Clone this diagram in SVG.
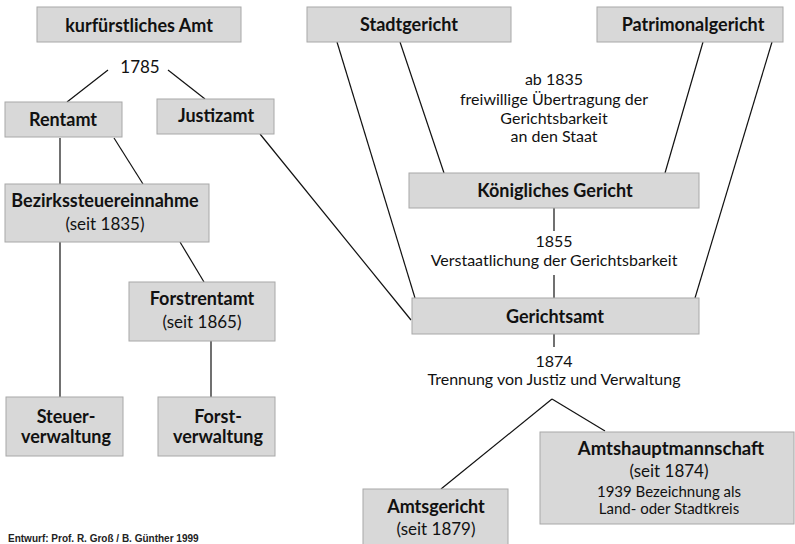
<svg xmlns="http://www.w3.org/2000/svg" width="795" height="544" viewBox="0 0 795 544">
<style>
.box{fill:#d8d8d8;stroke:#a8a8a8;stroke-width:1}
.t{font-family:Lato,"Open Sans","Liberation Sans",sans-serif;font-size:17px;fill:#111;text-anchor:middle}
.b{font-weight:bold;font-size:18px}
.n{font-family:Lato,"Open Sans","Liberation Sans",sans-serif;font-size:16px;fill:#111;text-anchor:middle}
.s{font-size:15px}
.ln{stroke:#111;stroke-width:1.2;fill:none}
.foot{font-family:"Liberation Sans",Arial,sans-serif;font-size:10px;font-weight:bold;fill:#222}
</style>
<rect width="795" height="544" fill="#ffffff"/>
<g id="connectors">
<path class="ln" d="M108,70 L67,102"/>
<path class="ln" d="M168,70 L205,99"/>
<path class="ln" d="M60,138 L60,184"/>
<path class="ln" d="M114,138 L143,184"/>
<path class="ln" d="M60,242 L60,397"/>
<path class="ln" d="M180,242 L204,282"/>
<path class="ln" d="M211,341 L211,397"/>
<path class="ln" d="M260,134 L411,320"/>
<path class="ln" d="M337,42 L415,298"/>
<path class="ln" d="M400,42 L444,173"/>
<path class="ln" d="M703,42 L665,173"/>
<path class="ln" d="M772,42 L695,298"/>
<path class="ln" d="M554,208 L554,231"/>
<path class="ln" d="M554,275 L554,298"/>
<path class="ln" d="M554,334 L554,347"/>
<path class="ln" d="M552,399 L441,489"/>
<path class="ln" d="M552,399 L605,431"/>
</g>
<g id="kurfuerstliches-amt"><rect class="box" x="37" y="7" width="204" height="35"/><text class="t b" x="139" y="32">kurfürstliches Amt</text></g>
<g id="stadtgericht"><rect class="box" x="307" y="7" width="204" height="35"/><text class="t b" x="409" y="31">Stadtgericht</text></g>
<g id="patrimonalgericht"><rect class="box" x="597" y="7" width="186" height="35"/><text class="t b" x="693" y="31">Patrimonalgericht</text></g>
<g id="label-1785"><text class="t" x="140" y="73">1785</text></g>
<g id="rentamt"><rect class="box" x="5" y="102" width="117" height="35"/><text class="t b" x="63" y="126">Rentamt</text></g>
<g id="justizamt"><rect class="box" x="157" y="99" width="117" height="35"/><text class="t b" x="216" y="122">Justizamt</text></g>
<g id="label-1835"><text class="n" x="554" y="85">ab 1835</text><text class="n" x="554" y="105">freiwillige Übertragung der</text><text class="n" x="554" y="124">Gerichtsbarkeit</text><text class="n" x="554" y="142">an den Staat</text></g>
<g id="bezirkssteuereinnahme"><rect class="box" x="5" y="184" width="204" height="58"/><text class="t b" x="105" y="207">Bezirkssteuereinnahme</text><text class="t" x="105" y="230">(seit 1835)</text></g>
<g id="koenigliches-gericht"><rect class="box" x="409" y="173" width="290" height="35"/><text class="t b" x="555" y="197">Königliches Gericht</text></g>
<g id="label-1855"><text class="n" x="554" y="247">1855</text><text class="n" x="554" y="266">Verstaatlichung der Gerichtsbarkeit</text></g>
<g id="forstrentamt"><rect class="box" x="129" y="282" width="146" height="59"/><text class="t b" x="202" y="305">Forstrentamt</text><text class="t" x="202" y="328">(seit 1865)</text></g>
<g id="gerichtsamt"><rect class="box" x="412" y="298" width="287" height="36"/><text class="t b" x="555" y="323">Gerichtsamt</text></g>
<g id="label-1874"><text class="n" x="554" y="367">1874</text><text class="n" x="554" y="385">Trennung von Justiz und Verwaltung</text></g>
<g id="steuerverwaltung"><rect class="box" x="6" y="397" width="117" height="59"/><text class="t b" x="66" y="423">Steuer-</text><text class="t b" x="66" y="443">verwaltung</text></g>
<g id="forstverwaltung"><rect class="box" x="158" y="397" width="117" height="59"/><text class="t b" x="218" y="423">Forst-</text><text class="t b" x="218" y="443">verwaltung</text></g>
<g id="amtshauptmannschaft"><rect class="box" x="540" y="432" width="254" height="92"/><text class="t b" x="671" y="455" style="font-size:18.5px">Amtshauptmannschaft</text><text class="t" x="669" y="477">(seit 1874)</text><text class="t s" x="669" y="497">1939 Bezeichnung als</text><text class="t s" x="669" y="514">Land- oder Stadtkreis</text></g>
<g id="amtsgericht"><rect class="box" x="363" y="489" width="145" height="60"/><text class="t b" x="436" y="513">Amtsgericht</text><text class="t" x="436" y="535">(seit 1879)</text></g>
<text class="foot" x="8" y="542">Entwurf: Prof. R. Groß / B. Günther  1999</text>
</svg>
